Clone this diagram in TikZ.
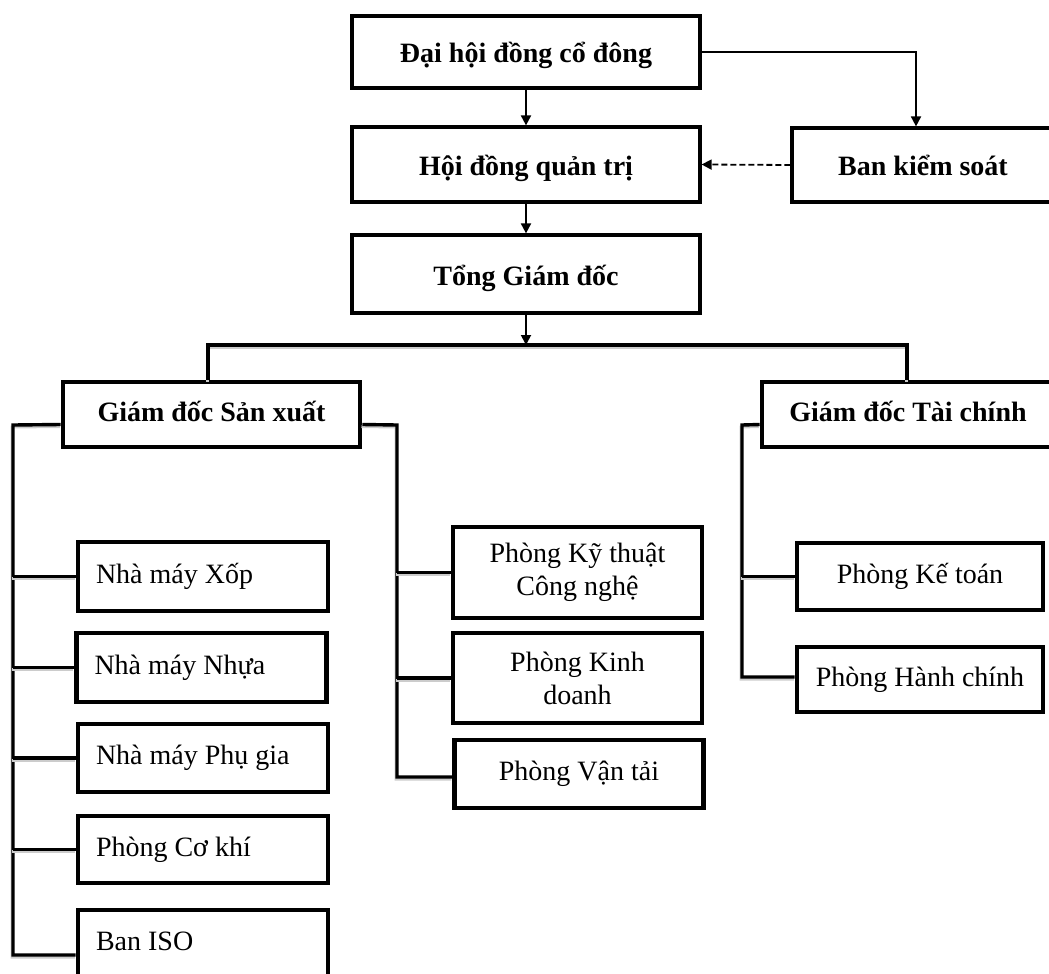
\documentclass[tikz,border=0pt]{standalone}
\usepackage{fontspec}
\setmainfont{Liberation Serif}
\usetikzlibrary{arrows.meta}
\newcommand{\lefttext}[1]{\makebox[107pt][l]{#1}}
\begin{document}
\begin{tikzpicture}[x=0.5pt,y=-0.5pt,
  font=\fontsize{14}{16.5}\selectfont,
  oneline/.style={text height=9pt, text depth=2.4pt},
  topline/.style={text height=12pt, text depth=1pt},
  topbox/.style={draw=black, line width=1.6pt, fill=white, font=\fontsize{14}{16.5}\selectfont\bfseries, inner sep=0pt, align=center, topline},
  midbox/.style={draw=black, line width=2.3pt, fill=white, font=\fontsize{14}{16.5}\selectfont\bfseries, inner sep=0pt, align=center, oneline},
  unitbox/.style={draw=black, line width=2.3pt, fill=white, inner sep=0pt, align=center, minimum width=124.5pt},
  leftbox/.style={draw=black, line width=2.3pt, fill=white, inner sep=0pt, minimum width=125pt, oneline},
  arr/.style={line width=0.9pt, -{Triangle[length=5pt,width=5pt]}},
  conn/.style={line width=1.7pt, line join=miter,
    preaction={draw=gray!40, line width=1.5pt, transform canvas={shift={(-0.4pt,-1pt)}}}}
]
\useasboundingbox (0,0) rectangle (1049,974);

% top level
\node[topbox, minimum width=174pt, minimum height=36pt] (dh) at (526,52) {Đại hội đồng cổ đông};
\node[topbox, minimum width=174pt, minimum height=37.5pt] (hd) at (526,164.5) {Hội đồng quản trị};
\node[topbox, minimum width=174pt, minimum height=39pt] (tgd) at (526,274) {Tổng Giám đốc};
\node[topbox, minimum width=131pt, minimum height=37pt] (bks) at (923,165) {Ban kiểm soát};

% directors
\node[midbox, minimum width=148.5pt, minimum height=32.5pt] (gdsx) at (211.5,414.5) {Giám đốc Sản xuất};
\node[midbox, minimum width=146pt, minimum height=32.5pt] (gdtc) at (908,414.5) {Giám đốc Tài chính};

% left column
\node[leftbox, minimum height=34.5pt] (nmx) at (203,576.5) {\lefttext{Nhà máy Xốp}};
\node[leftbox, minimum height=34.5pt] (nmn) at (201.5,667.5) {\lefttext{Nhà máy Nhựa}};
\node[leftbox, minimum height=34pt] (nmpg) at (203,758) {\lefttext{Nhà máy Phụ gia}};
\node[leftbox, minimum height=33.5pt] (pck) at (203,849.5) {\lefttext{Phòng Cơ khí}};
\node[leftbox, minimum height=34pt] (iso) at (203,944) {\lefttext{Ban ISO}};

% middle column
\node[unitbox, minimum height=45.5pt] (pkt) at (577.5,572.5) {Phòng Kỹ thuật\\Công nghệ};
\node[unitbox, minimum height=45pt] (pkd) at (577.5,678) {Phòng Kinh\\doanh};
\node[unitbox, minimum height=34pt, oneline] (pvt) at (579,774) {Phòng Vận tải};

% right column
\node[unitbox, minimum width=123pt, minimum height=33.5pt, oneline] (pkto) at (920,576.5) {Phòng Kế toán};
\node[unitbox, minimum width=123pt, minimum height=32.5pt, oneline] (phc) at (920,679.5) {Phòng Hành chính};

% top arrows
\draw[arr] (dh.south) -- (hd.north);
\draw[arr] (hd.south) -- (tgd.north);
\draw[arr] (dh.east) -| ([xshift=-3.5pt]bks.north);
\draw[arr, dash pattern=on 3pt off 1.5pt] (bks.west) -- (hd.east);

% bus
\coordinate (bus) at (526,345);
\coordinate (busL) at (208,345);
\coordinate (busR) at (907,345);
\draw[arr] (tgd.south) -- (bus);
\draw[conn] (busL |- gdsx.north) -- (busL) -- (busR) -- (busR |- gdtc.north);

% left spine
\coordinate (lt) at (13,425);
\coordinate (lb) at (13,955);
\draw[conn] ([yshift=-5pt]gdsx.west) -- (lt) -- (lb) -- (lb -| iso.west);
\draw[conn] (lt |- nmx.west) -- (nmx.west);
\draw[conn] (lt |- nmn.west) -- (nmn.west);
\draw[conn] (lt |- nmpg.west) -- (nmpg.west);
\draw[conn] (lt |- pck.west) -- (pck.west);

% middle spine
\coordinate (mt) at (397,425);
\coordinate (mb) at (397,777);
\draw[conn] ([yshift=-5pt]gdsx.east) -- (mt) -- (mb) -- (mb -| pvt.west);
\draw[conn] (mt |- pkt.west) -- (pkt.west);
\draw[conn] (mt |- pkd.west) -- (pkd.west);

% right spine
\coordinate (rt) at (742,425);
\coordinate (rb) at (742,677);
\draw[conn] ([yshift=-5pt]gdtc.west) -- (rt) -- (rb) -- (rb -| phc.west);
\draw[conn] (rt |- pkto.west) -- (pkto.west);
\end{tikzpicture}
\end{document}
